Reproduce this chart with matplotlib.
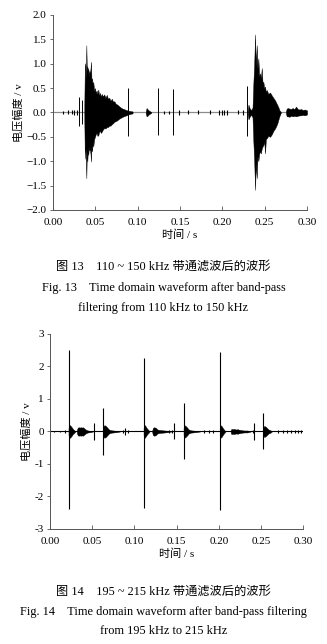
import matplotlib
matplotlib.use("Agg")
import matplotlib.pyplot as plt
import numpy as np

plt.rcParams['font.family'] = ['Liberation Serif', 'Noto Sans CJK SC']
plt.rcParams['axes.unicode_minus'] = False

# ---------- 图13: 110~150 kHz ----------
base1_t = [0.0, 0.30]

# 孤立尖峰 (时间, 正峰, 负峰)
spike1_t = [0.0307, 0.0346, 0.0890, 0.1240, 0.1417, 0.2295]
spike1_hi = [0.31, 0.25, 0.51, 0.50, 0.48, 0.54]
spike1_lo = [-0.27, -0.23, -0.48, -0.46, -0.47, -0.48]

# 小脉冲
blip1_t = [0.012, 0.018, 0.022, 0.025, 0.028, 0.131, 0.137, 0.149, 0.160,
           0.171, 0.185, 0.196, 0.199, 0.202, 0.205, 0.2185, 0.2245]
blip1_a = [0.03, 0.04, 0.04, 0.05, 0.06, 0.03, 0.03, 0.05, 0.04,
           0.04, 0.04, 0.05, 0.06, 0.05, 0.06, 0.04, 0.05]

# 第一段振荡包络
env1a_t = [0.0370, 0.0376, 0.0382, 0.0388, 0.0394, 0.0400, 0.0406, 0.0412,
           0.0417, 0.0425, 0.0431, 0.0437, 0.0443, 0.0449, 0.0455, 0.0462,
           0.0469, 0.0476, 0.0486, 0.0496, 0.0505, 0.0515, 0.0525, 0.0535,
           0.0545, 0.0555, 0.0565, 0.0575, 0.0590, 0.0605, 0.0620, 0.0635,
           0.0650, 0.0665, 0.0680, 0.0695, 0.0710, 0.0725, 0.0740, 0.0760,
           0.0780, 0.0800, 0.0820, 0.0850, 0.0880, 0.0910, 0.0940]
env1a_hi = [0.15, 0.95, 1.01, 0.70, 1.38, 0.85, 0.95, 0.80,
            0.91, 0.75, 0.85, 0.80, 0.90, 1.04, 0.65, 0.70,
            0.55, 0.63, 0.45, 0.50, 0.40, 0.45, 0.38, 0.47,
            0.35, 0.40, 0.32, 0.38, 0.33, 0.37, 0.30, 0.36,
            0.28, 0.30, 0.24, 0.28, 0.22, 0.23, 0.18, 0.16,
            0.13, 0.10, 0.08, 0.06, 0.04, 0.03, 0.02]
env1a_lo = [-0.15, -0.95, -0.60, -0.95, -1.35, -0.80, -1.00, -0.75,
            -0.87, -0.70, -0.78, -0.77, -0.85, -1.01, -0.70, -0.80,
            -0.60, -0.70, -0.55, -0.50, -0.45, -0.42, -0.48, -0.47,
            -0.40, -0.38, -0.42, -0.40, -0.35, -0.32, -0.33, -0.30,
            -0.30, -0.27, -0.27, -0.24, -0.22, -0.19, -0.18, -0.16,
            -0.13, -0.11, -0.09, -0.07, -0.05, -0.03, -0.02]

# 0.11 s 附近的小振荡
env1b_t = [0.1095, 0.1105, 0.1115, 0.1125, 0.1140, 0.1160]
env1b_hi = [0.02, 0.09, 0.07, 0.05, 0.03, 0.01]
env1b_lo = [-0.02, -0.08, -0.07, -0.05, -0.03, -0.01]

# 第二段振荡包络
env1c_t = [0.2300, 0.2308, 0.2316, 0.2324, 0.2340, 0.2356, 0.2366, 0.2376,
           0.2386, 0.2396, 0.2406, 0.2415, 0.2425, 0.2435, 0.2445, 0.2455,
           0.2465, 0.2475, 0.2484, 0.2494, 0.2504, 0.2514, 0.2524, 0.2543,
           0.2563, 0.2583, 0.2602, 0.2622, 0.2636, 0.2650, 0.2663, 0.2673,
           0.2690]
env1c_hi = [0.05, 0.16, 0.12, 0.08, 0.05, 0.10, 0.60, 1.00,
            1.60, 0.95, 1.38, 0.90, 1.11, 0.75, 0.80, 0.70,
            0.91, 0.60, 0.63, 0.50, 0.53, 0.42, 0.46, 0.38,
            0.41, 0.35, 0.30, 0.25, 0.20, 0.15, 0.10, 0.05,
            0.01]
env1c_lo = [-0.05, -0.14, -0.12, -0.08, -0.05, -0.10, -0.60, -1.00,
            -1.59, -1.05, -1.35, -0.90, -1.00, -0.85, -0.80, -0.84,
            -0.74, -0.70, -0.67, -0.60, -0.84, -0.55, -0.53, -0.48,
            -0.50, -0.45, -0.38, -0.33, -0.28, -0.22, -0.14, -0.08,
            -0.01]

# 0.275~0.30 s 的持续振荡
env1d_t = [0.2750, 0.2760, 0.2775, 0.2790, 0.2810, 0.2830, 0.2850, 0.2870,
           0.2890, 0.2910, 0.2930, 0.2950, 0.2970, 0.2990, 0.3000]
env1d_hi = [0.02, 0.08, 0.09, 0.08, 0.07, 0.09, 0.07, 0.12,
            0.07, 0.06, 0.07, 0.05, 0.06, 0.05, 0.04]
env1d_lo = [-0.02, -0.08, -0.08, -0.09, -0.07, -0.08, -0.07, -0.08,
            -0.07, -0.06, -0.06, -0.05, -0.06, -0.05, -0.04]

yticks1 = [-2.0, -1.5, -1.0, -0.5, 0.0, 0.5, 1.0, 1.5, 2.0]
yticklabels1 = ['\u22122.0', '\u22121.5', '\u22121.0', '\u22120.5', '0.0',
                '0.5', '1.0', '1.5', '2.0']

# ---------- 图14: 195~215 kHz ----------
base2_t = [0.0, 0.30]

spike2_t = [0.0221, 0.0522, 0.0632, 0.0889, 0.1111, 0.1470, 0.1585, 0.2016,
            0.2423, 0.2530]
spike2_hi = [2.51, 0.27, 0.73, 0.10, 2.25, 0.25, 0.89, 2.46, 0.25, 0.56]
spike2_lo = [-2.39, -0.26, -0.72, -0.10, -2.34, -0.24, -0.86, -2.43, -0.26,
             -0.54]

blip2_t = [0.005, 0.012, 0.018, 0.086, 0.092, 0.141, 0.145, 0.182, 0.188,
           0.193, 0.240, 0.270, 0.276, 0.281, 0.286, 0.290, 0.294, 0.298]
blip2_a = [0.03, 0.03, 0.04, 0.04, 0.04, 0.04, 0.04, 0.04, 0.04,
           0.04, 0.04, 0.04, 0.04, 0.05, 0.04, 0.05, 0.04, 0.05]

# 各尖峰后的衰减振荡 (对称包络)
env2a_t = [0.0219, 0.0224, 0.0230, 0.0238, 0.0248, 0.0260, 0.0273, 0.0288, 0.0300]
env2a_hi = [0.10, 0.17, 0.20, 0.19, 0.16, 0.12, 0.07, 0.04, 0.0]
env2b_t = [0.0316, 0.0322, 0.0330, 0.0340, 0.0352, 0.0364, 0.0376, 0.0388,
           0.0400, 0.0413, 0.0428, 0.0450, 0.0480, 0.0510]
env2b_hi = [0.0, 0.08, 0.12, 0.13, 0.12, 0.13, 0.12, 0.13, 0.11, 0.08, 0.05,
            0.03, 0.02, 0.0]
env2c_t = [0.0630, 0.0635, 0.0641, 0.0650, 0.0660, 0.0672, 0.0685, 0.0700,
           0.0720, 0.0750, 0.0790, 0.0830]
env2c_hi = [0.10, 0.16, 0.19, 0.19, 0.17, 0.14, 0.10, 0.06, 0.04, 0.03, 0.02,
            0.0]
env2d_t = [0.1109, 0.1114, 0.1120, 0.1128, 0.1138, 0.1150, 0.1165, 0.1180]
env2d_hi = [0.10, 0.17, 0.20, 0.18, 0.14, 0.09, 0.05, 0.0]
env2e_t = [0.1210, 0.1216, 0.1224, 0.1234, 0.1245, 0.1256, 0.1268, 0.1285,
           0.1320, 0.1360, 0.1400, 0.1440]
env2e_hi = [0.0, 0.08, 0.12, 0.13, 0.12, 0.11, 0.07, 0.05, 0.04, 0.03, 0.02,
            0.0]
env2f_t = [0.1583, 0.1588, 0.1594, 0.1603, 0.1614, 0.1626, 0.1640, 0.1660,
           0.1690, 0.1730, 0.1780]
env2f_hi = [0.10, 0.16, 0.19, 0.18, 0.15, 0.12, 0.07, 0.04, 0.03, 0.02, 0.0]
env2g_t = [0.2014, 0.2019, 0.2025, 0.2033, 0.2043, 0.2055, 0.2068, 0.2080]
env2g_hi = [0.10, 0.17, 0.19, 0.17, 0.13, 0.08, 0.04, 0.0]
env2h_t = [0.2140, 0.2146, 0.2155, 0.2167, 0.2180, 0.2193, 0.2206, 0.2220,
           0.2235, 0.2250, 0.2270, 0.2300, 0.2340, 0.2380]
env2h_hi = [0.0, 0.07, 0.08, 0.07, 0.08, 0.07, 0.06, 0.07, 0.06, 0.05, 0.04,
            0.03, 0.03, 0.0]
env2i_t = [0.2528, 0.2533, 0.2539, 0.2548, 0.2558, 0.2570, 0.2582, 0.2597,
           0.2612, 0.2630]
env2i_hi = [0.10, 0.15, 0.17, 0.16, 0.14, 0.11, 0.08, 0.05, 0.04, 0.0]

yticks2 = [-3, -2, -1, 0, 1, 2, 3]
yticklabels2 = ['-3', '-2', '-1', '0', '1', '2', '3']

xticks = [0.00, 0.05, 0.10, 0.15, 0.20, 0.25, 0.30]
xticklabels = ['0.00', '0.05', '0.10', '0.15', '0.20', '0.25', '0.30']

ylabel = '电压幅度 / v'
xlabel = '时间 / s'
cap13 = ['图 13    110 ~ 150 kHz 带通滤波后的波形',
         'Fig. 13    Time domain waveform after band-pass',
         'filtering from 110 kHz to 150 kHz']
cap14 = ['图 14    195 ~ 215 kHz 带通滤波后的波形',
         'Fig. 14    Time domain waveform after band-pass filtering',
         'from 195 kHz to 215 kHz']


def style_axes(ax, yticks, yticklabels, ylim):
    for s in ['top', 'right']:
        ax.spines[s].set_visible(False)
    for s in ['left', 'bottom']:
        ax.spines[s].set_color('#555555')
        ax.spines[s].set_linewidth(0.7)
    ax.set_xlim(0, 0.30)
    ax.set_ylim(*ylim)
    ax.set_xticks(xticks)
    ax.set_xticklabels(xticklabels)
    ax.set_yticks(yticks)
    ax.set_yticklabels(yticklabels)
    ax.tick_params(axis='x', direction='in', length=3, width=0.6,
                   color='#555555', labelsize=8, pad=6)
    ax.tick_params(axis='y', direction='out', length=2.5, width=0.6,
                   color='#555555', labelsize=8, pad=2)
    ax.set_xlabel(xlabel, fontsize=8, labelpad=1.5)
    ax.set_ylabel(ylabel, fontsize=8, labelpad=2)


fig = plt.figure(figsize=(3.27, 6.44), dpi=100)

# 图13
ax1 = fig.add_axes([0.162, 0.674, 0.777, 0.3028])
ax1.plot(base1_t, [0, 0], color='#8c8c8c', lw=0.9, zorder=1)
for t, hi, lo in [(env1a_t, env1a_hi, env1a_lo), (env1b_t, env1b_hi, env1b_lo),
                  (env1c_t, env1c_hi, env1c_lo), (env1d_t, env1d_hi, env1d_lo)]:
    ax1.fill_between(t, lo, hi, color='black', lw=0.3, edgecolor='black', zorder=2)
ax1.vlines(spike1_t, spike1_lo, spike1_hi, color='black', lw=0.7, zorder=3)
ax1.vlines(blip1_t, -np.array(blip1_a), blip1_a, color='black', lw=0.8, zorder=3)
style_axes(ax1, yticks1, yticklabels1, (-2.0, 2.0))

# 图14
ax2 = fig.add_axes([0.153, 0.1786, 0.774, 0.3028])
ax2.plot(base2_t, [0, 0], color='black', lw=0.8, zorder=1)
for t, hi in [(env2a_t, env2a_hi), (env2b_t, env2b_hi), (env2c_t, env2c_hi),
              (env2d_t, env2d_hi), (env2e_t, env2e_hi), (env2f_t, env2f_hi),
              (env2g_t, env2g_hi), (env2h_t, env2h_hi), (env2i_t, env2i_hi)]:
    ax2.fill_between(t, -np.array(hi), hi, color='black', lw=0.3,
                     edgecolor='black', zorder=2)
ax2.vlines(spike2_t, spike2_lo, spike2_hi, color='black', lw=0.8, zorder=3)
ax2.vlines(blip2_t, -np.array(blip2_a), blip2_a, color='black', lw=0.8, zorder=3)
style_axes(ax2, yticks2, yticklabels2, (-3, 3))

# 图题
for y, s in zip([0.5854, 0.5528, 0.5217], cap13):
    fig.text(0.5, y, s, ha='center', va='center', fontsize=8.8)
for y, s in zip([0.0807, 0.0497, 0.0202], cap14):
    fig.text(0.5, y, s, ha='center', va='center', fontsize=8.8)

fig.savefig('out.png', dpi=100)
